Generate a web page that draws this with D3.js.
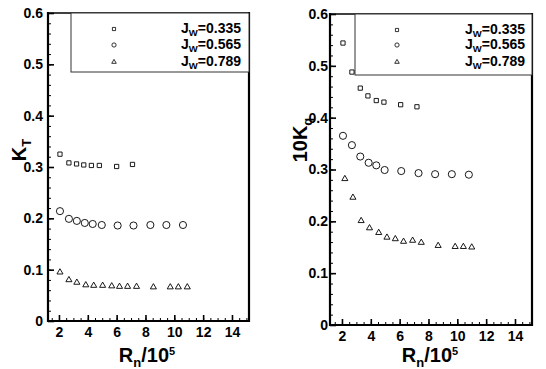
<!DOCTYPE html>
<html>
<head>
<meta charset="utf-8">
<script src="https://cdn.jsdelivr.net/npm/d3@7"></script>
<style>
  body { margin: 0; background: #fff; }
  svg { display: block; font-family: "Liberation Sans", Arial, sans-serif; }
</style>
</head>
<body>
<div id="chart"></div>
<script>
// left panel: K_T vs Rn/10^5
const ktRn335 = [2.07, 2.69, 3.22, 3.72, 4.25, 4.8, 6.0, 7.1];
const kt335 = [0.325, 0.308, 0.306, 0.304, 0.303, 0.303, 0.301, 0.305];
const ktRn565 = [2.07, 2.69, 3.24, 3.79, 4.34, 4.97, 6.07, 7.17, 8.34, 9.45, 10.6];
const kt565 = [0.214, 0.199, 0.195, 0.191, 0.189, 0.187, 0.186, 0.186, 0.187, 0.187, 0.187];
const ktRn789 = [2.07, 2.69, 3.24, 3.86, 4.41, 5.03, 5.66, 6.2, 6.76, 7.38, 8.55, 9.72, 10.28, 10.9];
const kt789 = [0.095, 0.080, 0.075, 0.070, 0.069, 0.069, 0.068, 0.067, 0.067, 0.067, 0.066, 0.066, 0.066, 0.066];

// right panel: 10K_q vs Rn/10^5
const kqRn335 = [2.07, 2.69, 3.27, 3.8, 4.38, 4.91, 6.07, 7.2];
const kq335 = [0.544, 0.488, 0.457, 0.442, 0.433, 0.430, 0.425, 0.421];
const kqRn565 = [2.07, 2.69, 3.27, 3.85, 4.38, 4.96, 6.11, 7.31, 8.46, 9.62, 10.8];
const kq565 = [0.365, 0.347, 0.325, 0.313, 0.308, 0.299, 0.297, 0.293, 0.291, 0.291, 0.290];
const kqRn789 = [2.2, 2.76, 3.33, 3.91, 4.55, 5.12, 5.7, 6.27, 6.9, 7.5, 8.67, 9.85, 10.42, 11.0];
const kq789 = [0.282, 0.246, 0.201, 0.187, 0.178, 0.169, 0.166, 0.161, 0.163, 0.159, 0.153, 0.151, 0.151, 0.150];

const legendLabels = ["0.335", "0.565", "0.789"];
const xTicks = [2, 4, 6, 8, 10, 12, 14];
const yTicks = [0, 0.1, 0.2, 0.3, 0.4, 0.5, 0.6];

const W = 546, H = 369;
const svg = d3.select("#chart").append("svg").attr("width", W).attr("height", H);

const symbols = [d3.symbolSquare, d3.symbolCircle, d3.symbolTriangle];
const symbolSizes = [18, 40, 16];
const legendSizes = [10, 14, 9];

const fmtY = v => (v === 0 ? "0" : d3.format(".1f")(v));

const drawPanel = (cfg) => {
  const g = svg.append("g");
  const x = d3.scaleLinear().domain(cfg.xDomain).range([cfg.left, cfg.right]);
  const y = d3.scaleLinear().domain([0, 0.6]).range([cfg.bottom, cfg.top]);

  // minor ticks
  g.append("g")
    .attr("transform", `translate(0,${cfg.bottom})`)
    .call(d3.axisBottom(x).tickValues(d3.range(1.5, 15.01, 0.5)).tickSize(-3).tickFormat(""))
    .call(a => a.select(".domain").remove());
  g.append("g")
    .attr("transform", `translate(${cfg.left},0)`)
    .call(d3.axisLeft(y).tickValues(d3.range(0.02, 0.6, 0.02)).tickSize(-3).tickFormat(""))
    .call(a => a.select(".domain").remove());

  // major ticks
  const xa = g.append("g")
    .attr("transform", `translate(0,${cfg.bottom})`)
    .call(d3.axisBottom(x).tickValues(xTicks).tickSize(-6).tickPadding(6));
  const ya = g.append("g")
    .attr("transform", `translate(${cfg.left},0)`)
    .call(d3.axisLeft(y).tickValues(yTicks).tickSize(-6).tickPadding(cfg.yPad).tickFormat(fmtY));
  [xa, ya].forEach(a => {
    a.select(".domain").remove();
    a.selectAll("line").attr("stroke-width", 1.6);
    a.selectAll("text").attr("fill", "#000").style("font-size", "14px").style("font-weight", "bold");
  });
  g.selectAll(".tick line").attr("stroke", "#000");

  // frame
  const fr = g.append("g").attr("stroke", "#000").attr("fill", "none");
  fr.append("line").attr("x1", cfg.left).attr("x2", cfg.right).attr("y1", cfg.top).attr("y2", cfg.top).attr("stroke-width", 1.3);
  fr.append("line").attr("x1", cfg.left).attr("x2", cfg.left).attr("y1", cfg.top - 1).attr("y2", cfg.bottom + 1).attr("stroke-width", 2.2);
  fr.append("line").attr("x1", cfg.right).attr("x2", cfg.right).attr("y1", cfg.top - 1).attr("y2", cfg.bottom + 1).attr("stroke-width", 2.2);
  fr.append("line").attr("x1", cfg.left).attr("x2", cfg.right).attr("y1", cfg.bottom).attr("y2", cfg.bottom).attr("stroke-width", 2.2);

  // legend box
  g.append("rect")
    .attr("x", cfg.legX).attr("y", cfg.top)
    .attr("width", cfg.right - cfg.legX).attr("height", cfg.legBottom - cfg.top)
    .attr("fill", "#fff").attr("stroke", "#333").attr("stroke-width", 1);

  // data
  cfg.series.forEach((s, i) => {
    g.append("g").selectAll("path")
      .data(s.rn.map((r, j) => [r, s.v[j]]))
      .join("path")
      .attr("d", d3.symbol(symbols[i], symbolSizes[i]))
      .attr("transform", d => `translate(${x(d[0])},${y(d[1])})`)
      .attr("fill", "none").attr("stroke", "#000").attr("stroke-width", 0.9);
  });

  // legend entries
  legendLabels.forEach((lab, i) => {
    const ry = cfg.legRows[i];
    g.append("path")
      .attr("d", d3.symbol(symbols[i], legendSizes[i]))
      .attr("transform", `translate(${cfg.legSymX},${ry})`)
      .attr("fill", "none").attr("stroke", "#000").attr("stroke-width", 0.8);
    const t = g.append("text")
      .attr("x", cfg.legTextX).attr("y", ry + 4)
      .attr("text-anchor", "end")
      .style("font-size", "14px").style("font-weight", "bold");
    t.append("tspan").text("J");
    t.append("tspan").attr("dy", 3).style("font-size", "9.5px").text("W");
    t.append("tspan").attr("dy", -3).text("=" + lab);
  });

  // x label
  const xl = g.append("text")
    .attr("x", cfg.xLabelX).attr("y", 362)
    .attr("text-anchor", "middle")
    .style("font-size", "20px").style("font-weight", "bold");
  xl.append("tspan").text("R");
  xl.append("tspan").attr("dy", 5).style("font-size", "13px").text("n");
  xl.append("tspan").attr("dy", -5).text("/10");
  xl.append("tspan").attr("dy", -7).style("font-size", "11px").text("5");

  // y label
  const yl = g.append("text")
    .attr("transform", `translate(${cfg.yLabelX},${cfg.yLabelY}) rotate(-90)`)
    .attr("text-anchor", "middle")
    .style("font-size", "20px").style("font-weight", "bold");
  yl.append("tspan").text(cfg.yLabel);
  yl.append("tspan").attr("dy", 5).style("font-size", "13px").text(cfg.yLabelSub);
};

drawPanel({
  left: 48, right: 249, top: 13, bottom: 321,
  xDomain: [1.24, 15.18], yPad: 5,
  legX: 71, legBottom: 72, legRows: [29, 45, 62], legSymX: 114, legTextX: 241,
  xLabelX: 147, yLabelX: 26, yLabelY: 150, yLabel: "K", yLabelSub: "T",
  series: [
    { rn: ktRn335, v: kt335 },
    { rn: ktRn565, v: kt565 },
    { rn: ktRn789, v: kt789 }
  ]
});

drawPanel({
  left: 330, right: 532, top: 14, bottom: 325,
  xDomain: [1.17, 15.18], yPad: 2,
  legX: 355, legBottom: 75, legRows: [30, 45, 62], legSymX: 397, legTextX: 525,
  xLabelX: 430, yLabelX: 307, yLabelY: 140, yLabel: "10K", yLabelSub: "q",
  series: [
    { rn: kqRn335, v: kq335 },
    { rn: kqRn565, v: kq565 },
    { rn: kqRn789, v: kq789 }
  ]
});
</script>
</body>
</html>
